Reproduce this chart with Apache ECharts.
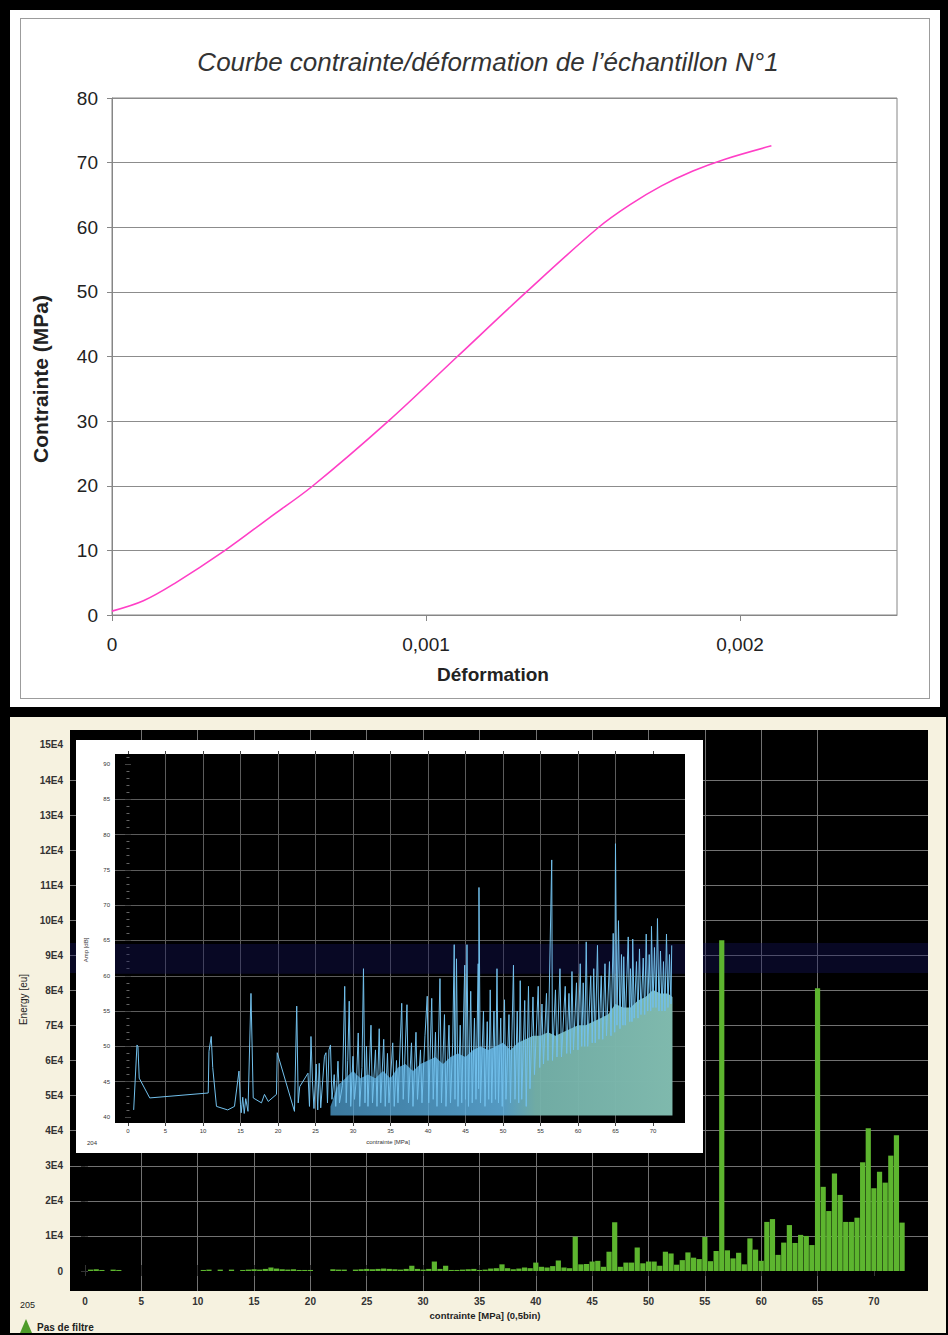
<!DOCTYPE html>
<html lang="fr">
<head>
<meta charset="utf-8">
<title>Courbe contrainte/déformation de l’échantillon N°1</title>
<script src="https://cdn.jsdelivr.net/npm/echarts@6/dist/echarts.min.js"></script>
<style>
html,body{margin:0;padding:0;width:948px;height:1335px;background:#000;overflow:hidden;position:relative;}
.abs{position:absolute;}
</style>
</head>
<body>
<div class="abs" style="left:10px;top:10px;width:930px;height:697px;background:#fff;"></div>
<div class="abs" style="left:20px;top:18px;width:908px;height:679px;border:1px solid #9c9c9c;"></div>
<div class="abs" style="left:10px;top:717px;width:936px;height:616px;background:#f6f2e0;"></div>
<div id="c1" class="abs" style="left:0;top:0;width:948px;height:712px;"></div>
<div id="c2" class="abs" style="left:0;top:712px;width:948px;height:623px;"></div>
<div id="c3" class="abs" style="left:76px;top:740px;width:627px;height:413px;background:#fff;"></div>
<script>
// ---------- Top chart: stress / strain curve ----------
const titleText = 'Courbe contrainte/déformation de l’échantillon N°1';
const strain = [0, 0.0001, 0.0002, 0.00036, 0.0005, 0.00064, 0.00088, 0.0011, 0.00132, 0.00155, 0.00165, 0.00175, 0.00185, 0.00195, 0.0021];
const stress = [0.6, 2.2, 4.9, 10, 15, 20, 30, 40, 50, 60, 63.5, 66.4, 68.7, 70.5, 72.6];
const strainTicks = [0, 0.001, 0.002];

// ---------- Bottom chart: energy histogram (0.5 MPa bins) ----------
const energyBins = [0.5,1,1.5,2.5,3,10.5,11,12,13,14,14.5,15,15.5,16,16.5,17,17.5,18,18.5,19,19.5,20,22,22.5,23,24,24.5,25,25.5,26,26.5,27,27.5,
  28,28.5,29,29.5,30,30.5,31,31.5,32,32.5,33,33.5,34,34.5,35,35.5,36,36.5,37,37.5,38,38.5,39,39.5,40,40.5,41,41.5,42,42.5,43,43.5,44,44.5,45,45.5,46,46.5,47,47.5,48,48.5,49,49.5,50,50.5,
  51,51.5,52,52.5,53,53.5,54,54.5,55,55.5,56,56.5,57,57.5,58,58.5,59,59.5,60,60.5,61,61.5,62,62.5,63,63.5,64,64.5,65,65.5,66,66.5,67,67.5,68,68.5,69,69.5,70,70.5,71,71.5,72,72.5];
const energyValues = [400,500,300,400,300,300,400,400,400,300,400,500,400,600,1000,700,500,400,500,300,300,300,500,400,400,400,500,600,500,600,700,600,500,
  400,600,1500,600,400,600,2700,600,1500,300,300,400,500,600,300,400,700,800,1900,800,500,700,1000,800,2400,1200,1000,1400,3000,1000,800,9800,1900,2000,2700,2900,1200,5500,13900,1200,2400,2400,6700,2200,2700,2700,
  1500,5500,5000,1800,3100,5300,3800,3400,9700,2800,5700,94300,5900,3600,5200,1900,9300,6100,2900,14000,14800,4600,8100,13100,8000,10300,10000,7400,80600,24000,17100,27800,21700,14000,14000,15200,31000,40700,23600,28300,25200,32900,38700,13800];
const stressTickValues = [0,5,10,15,20,25,30,35,40,45,50,55,60,65,70];
const energyTicks = [0,10000,20000,30000,40000,50000,60000,70000,80000,90000,100000,110000,120000,130000,140000,150000];

// ---------- Inset: amplitude of hits vs stress ----------
const ampTicks = [40,45,50,55,60,65,70,75,80,85,90];
const hitPoints = [
  [0.76,41.0],[1.2,50.2],[1.33,50.0],[1.5,45.5],[2.9,42.7],[10.7,43.4],[10.8,49.3],[11.1,51.4],[11.3,47.0],[11.8,41.5],
  [13.3,41.0],[14.2,41.5],[14.8,46.5],[15.0,41.8],[15.1,40.6],[15.3,42.8],[15.5,40.5],[15.7,42.6],[16.0,40.8],[16.4,57.5],
  [16.7,42.7],[17.8,42.0],[18.2,43.2],[18.7,42.2],[19.8,43.2],[19.9,49.1],[22.2,40.8],[22.5,55.7],[22.7,42.0],[22.9,44.3],
  [24.0,46.2],[24.2,41.5],[24.4,51.4],[24.6,45.0],[24.8,41.2],[25.1,47.5],[25.3,41.0],[25.5,47.6],[25.7,41.3],[26.2,48.6],
  [26.4,49.1],[26.6,42.0],[26.8,49.5],[27.0,50.2],[27.2,42.5],[27.5,46.0],[27.7,41.5],[28.0,47.9],[28.2,42.0],[28.6,44.5],
  [28.9,58.5],[29.1,42.0],[29.3,48.0],[29.5,56.4],[29.7,41.5],[30.0,48.6],[30.2,42.5],[30.5,46.0],[30.7,51.9],[30.9,41.5],
  [31.2,47.0],[31.4,61.0],[31.6,42.0],[31.8,50.0],[32.0,41.5],[32.4,53.0],[32.6,42.0],[33.0,49.5],[33.2,41.5],[33.5,52.5],
  [33.7,42.0],[34.1,51.0],[34.3,41.5],[34.6,49.0],[34.8,42.0],[35.3,50.5],[35.5,41.5],[35.8,48.0],[36.0,42.0],[36.5,56.1],
  [36.7,42.5],[37.2,55.9],[37.4,42.0],[37.8,50.5],[38.0,41.5],[38.4,52.0],[38.6,42.5],[39.0,49.5],[39.2,42.0],[39.6,51.5],
  [39.9,57.1],[40.1,42.0],[40.5,56.8],[40.7,42.5],[41.0,52.0],[41.2,41.5],[41.6,59.6],[41.8,42.0],[42.2,54.5],[42.4,41.5],
  [42.8,53.0],[43.0,42.0],[43.3,50.5],[43.5,64.4],[43.6,42.5],[43.8,62.4],[44.0,41.5],[44.3,53.0],[44.5,42.0],[44.9,61.5],
  [45.0,42.5],[45.2,64.4],[45.4,41.5],[45.7,57.8],[45.9,42.0],[46.2,54.0],[46.4,42.5],[46.7,61.7],[46.75,44.0],[46.8,72.5],
  [47.0,42.0],[47.4,55.0],[47.6,41.5],[47.9,53.5],[48.1,42.5],[48.3,58.0],[48.5,42.0],[48.8,55.0],[49.0,42.5],[49.2,61.0],
  [49.4,42.0],[49.7,54.0],[49.9,41.5],[50.2,56.6],[50.4,42.5],[50.8,54.5],[51.0,42.0],[51.4,61.5],[51.6,42.5],[51.9,55.0],
  [52.1,42.0],[52.3,59.3],[52.5,42.5],[52.9,56.5],[53.1,41.5],[53.4,58.5],[53.6,44.0],[54.0,57.0],[54.2,46.0],[54.7,58.5],
  [54.9,47.0],[55.2,56.0],[55.4,47.5],[55.8,57.5],[56.0,48.0],[56.5,76.4],[56.6,48.0],[57.0,58.0],[57.2,48.5],[57.6,61.0],
  [57.8,48.5],[58.3,58.5],[58.5,49.0],[58.8,57.5],[59.0,49.0],[59.2,60.6],[59.4,49.5],[59.8,59.0],[60.0,49.5],[60.3,61.7],
  [60.5,50.0],[60.7,59.0],[60.9,50.0],[61.1,64.8],[61.3,50.0],[61.7,60.0],[61.9,50.5],[62.1,61.0],[62.3,50.5],[62.6,64.3],
  [62.8,51.0],[63.1,60.0],[63.3,51.0],[63.6,61.7],[63.8,51.5],[64.2,62.0],[64.4,51.5],[64.7,66.0],[64.9,52.0],[65.0,78.7],
  [65.2,53.0],[65.4,67.8],[65.6,52.5],[65.8,63.0],[66.0,53.0],[66.1,62.7],[66.3,53.0],[66.7,65.5],[66.9,53.5],[67.0,61.0],
  [67.2,53.5],[67.3,65.2],[67.5,54.0],[67.8,62.0],[68.0,54.0],[68.2,63.8],[68.4,54.5],[68.7,62.5],[68.9,54.5],[69.1,65.9],
  [69.3,55.0],[69.5,63.0],[69.7,55.0],[69.8,67.0],[70.0,55.5],[70.2,64.0],[70.4,55.5],[70.6,68.1],[70.8,55.0],[71.0,63.5],
  [71.2,55.0],[71.4,62.0],[71.6,55.0],[71.8,65.9],[72.0,55.5],[72.2,63.0],[72.4,56.0],[72.5,64.3]
];
const bodyStress = [27,27.5,28,28.5,29,29.5,30,31,32,33,34,35,36,37,38,39,40,41,42,43,44,45,46,47,48,49,50,51,52,53,54,55,56,57,58,59,60,61,62,63,64,65,66,67,68,69,70,71,72,72.6];
const bodyAmp = [41.5,43,44.5,45,45.5,46,46.5,45.5,46,45.5,46.5,45.5,47,47.5,46.5,47.5,48,48.5,47.5,48.5,49,48.5,49.5,50,49.5,50,50.5,49.5,50.5,51,51.5,51.5,52,51.5,52,52.5,53,53,53.5,54,54.5,56,55.5,55.5,56.5,57,58,57.5,57.5,57];

const FONT = '"Liberation Sans", Arial, Helvetica, sans-serif';
const NARROW = '"Liberation Sans Narrow", "Liberation Sans", Arial, sans-serif';

// ===== chart 1 =====
const c1 = echarts.init(document.getElementById('c1'), null, {renderer: 'svg'});
c1.setOption({
  animation: false,
  textStyle: {fontFamily: FONT},
  graphic: [{
    type: 'text', x: 488, y: 62,
    style: {text: titleText, fill: '#333', fontSize: 26, fontStyle: 'italic', fontFamily: FONT, align: 'center', verticalAlign: 'middle'}
  }],
  grid: {left: 112, right: 51, top: 98, bottom: 97, show: true, borderColor: '#868686', borderWidth: 1, outerBoundsMode: 'none'},
  xAxis: {
    type: 'value', min: 0, max: 0.0025,
    axisLine: {show: true, lineStyle: {color: '#868686'}},
    axisTick: {show: true, customValues: strainTicks, length: 6, lineStyle: {color: '#868686'}},
    axisLabel: {customValues: strainTicks, formatter: v => String(v).replace('.', ','), fontSize: 19, color: '#222', margin: 20, fontFamily: FONT},
    splitLine: {show: false},
    name: 'Déformation', nameLocation: 'middle', nameGap: 50,
    nameTextStyle: {fontSize: 19, fontWeight: 'bold', color: '#222', fontFamily: FONT, padding: [0, 23, 0, 0]}
  },
  yAxis: {
    type: 'value', min: 0, max: 80, interval: 10,
    axisLine: {show: true, lineStyle: {color: '#868686'}},
    axisTick: {show: true, length: 5, lineStyle: {color: '#868686'}},
    axisLabel: {fontSize: 19, color: '#222', margin: 14, fontFamily: FONT},
    splitLine: {show: true, lineStyle: {color: '#8c8c8c', width: 1}},
    name: 'Contrainte (MPa)', nameLocation: 'middle', nameGap: 61,
    nameTextStyle: {fontSize: 21, fontWeight: 'bold', color: '#222', fontFamily: FONT, padding: [0, 45, 0, 0]}
  },
  series: [{
    type: 'line', data: strain.map((s, i) => [s, stress[i]]), smooth: 0.35, symbol: 'none',
    lineStyle: {color: '#ff3fc6', width: 1.6}
  }]
});

// ===== chart 2 =====
const c2 = echarts.init(document.getElementById('c2'), null, {renderer: 'svg'});
const xOuter = {min: -1.33, max: 74.8, splitNumber: 15};
const yOuter = {min: -5700, max: 154260, splitNumber: 16};
c2.setOption({
  animation: false,
  textStyle: {fontFamily: NARROW},
  graphic: [
    {type: 'text', x: 20, y: 593, style: {text: '205', fontSize: 9, fill: '#222', fontFamily: NARROW, verticalAlign: 'middle'}},
    {type: 'polygon', shape: {points: [[20, 621], [26, 607], [32, 621]]}, style: {fill: '#4f9c2a'}},
    {type: 'text', x: 37, y: 615, style: {text: 'Pas de filtre', fontSize: 10, fontWeight: 'bold', fill: '#222', fontFamily: NARROW, verticalAlign: 'middle'}}
  ],
  grid: {left: 70, right: 20, top: 18, bottom: 44, show: true, backgroundColor: '#000', borderWidth: 0, outerBoundsMode: 'none'},
  xAxis: [{
    type: 'value', ...xOuter,
    axisLine: {show: false},
    axisTick: {show: true, customValues: stressTickValues, length: 5, lineStyle: {color: '#333'}},
    axisLabel: {customValues: stressTickValues, fontSize: 10, fontWeight: 'bold', color: '#333', margin: 5},
    splitLine: {show: true, showMinLine: false, showMaxLine: false, lineStyle: {color: '#727272', width: 1}},
    name: 'contrainte [MPa] (0,5bin)', nameLocation: 'middle', nameGap: 17,
    nameTextStyle: {fontSize: 9.5, fontWeight: 'bold', color: '#222', padding: [0, 28, 0, 0]}
  }, {
    type: 'value', position: 'top', ...xOuter,
    axisLine: {show: false},
    axisTick: {show: true, customValues: stressTickValues, length: 6, lineStyle: {color: '#333'}},
    axisLabel: {show: false}, splitLine: {show: false}
  }],
  yAxis: [{
    type: 'value', ...yOuter,
    axisLine: {show: false},
    axisTick: {show: true, customValues: energyTicks, length: 4, lineStyle: {color: '#333'}},
    axisLabel: {customValues: energyTicks, fontSize: 10, fontWeight: 'bold', color: '#333', margin: 7,
      formatter: v => { const k = Math.round(v / 10000); if (Math.abs(v - k * 10000) > 1) return ''; return k === 0 ? '0' : k + 'E4'; }},
    splitLine: {show: true, showMinLine: false, showMaxLine: false, lineStyle: {color: '#727272', width: 1}},
    name: 'Energy [eu]', nameLocation: 'middle', nameGap: 36,
    nameTextStyle: {fontSize: 10, color: '#222', padding: [0, 0, 0, 22]}
  }, {
    type: 'value', position: 'right', ...yOuter,
    axisLine: {show: false},
    axisTick: {show: true, customValues: energyTicks, length: 3, lineStyle: {color: '#444'}},
    axisLabel: {show: false}, splitLine: {show: false}
  }],
  series: [{
    type: 'bar', xAxisIndex: 0, yAxisIndex: 0,
    data: energyBins.map((b, i) => [b, energyValues[i]]),
    barWidth: 5.2,
    itemStyle: {color: '#5db52f'},
    markArea: {silent: true, itemStyle: {color: 'rgba(22,22,95,0.38)'}, data: [[{yAxis: 85000}, {yAxis: 93500}]]}
  }]
});

// ===== chart 3 (inset) =====
const c3 = echarts.init(document.getElementById('c3'), null, {renderer: 'svg'});
const xIn = {min: -1.73, max: 74.27, splitNumber: 15};
const yIn = {min: 39.15, max: 91.4, splitNumber: 10};
c3.setOption({
  animation: false,
  textStyle: {fontFamily: NARROW},
  graphic: [{type: 'text', x: 11, y: 403, style: {text: '204', fontSize: 6, fill: '#333', fontFamily: NARROW, verticalAlign: 'middle'}}],
  grid: {left: 39, right: 18, top: 14, bottom: 30, show: true, backgroundColor: '#000', borderWidth: 0, outerBoundsMode: 'none'},
  xAxis: [{
    type: 'value', ...xIn,
    axisLine: {show: false},
    axisTick: {show: true, customValues: stressTickValues, length: 3, lineStyle: {color: '#444'}},
    axisLabel: {customValues: stressTickValues, fontSize: 6, color: '#333', margin: 5},
    splitLine: {show: true, showMinLine: false, showMaxLine: false, lineStyle: {color: '#5c5c5c', width: 1}},
    name: 'contrainte [MPa]', nameLocation: 'middle', nameGap: 16,
    nameTextStyle: {fontSize: 6, color: '#333', padding: [0, 24, 0, 0]}
  }, {
    type: 'value', position: 'top', ...xIn,
    axisLine: {show: false},
    axisTick: {show: true, customValues: stressTickValues, length: 3, lineStyle: {color: '#444'}},
    axisLabel: {show: false}, splitLine: {show: false}
  }],
  yAxis: [{
    type: 'value', ...yIn,
    axisLine: {show: false},
    axisTick: {show: true, customValues: ampTicks, length: 3, lineStyle: {color: '#444'}},
    minorTick: {show: true, splitNumber: 5, length: 1.5, lineStyle: {color: '#666'}},
    axisLabel: {customValues: ampTicks, fontSize: 6, color: '#333', margin: 5},
    splitLine: {show: true, showMinLine: false, showMaxLine: false, lineStyle: {color: '#5c5c5c', width: 1}},
    name: 'Amp [dB]', nameLocation: 'middle', nameGap: 26,
    nameTextStyle: {fontSize: 6, color: '#333', padding: [0, 23, 0, 0]}
  }, {
    type: 'value', position: 'right', ...yIn,
    axisLine: {show: false},
    axisTick: {show: true, customValues: ampTicks, length: 3, lineStyle: {color: '#444'}},
    minorTick: {show: true, splitNumber: 5, length: 1.5, lineStyle: {color: '#666'}},
    axisLabel: {show: false}, splitLine: {show: false}
  }],
  series: [{
    type: 'line', xAxisIndex: 0, yAxisIndex: 0,
    data: bodyStress.map((s, i) => [s, bodyAmp[i]]),
    symbol: 'none', lineStyle: {width: 0},
    areaStyle: {origin: 40.2, opacity: 1, color: {type: 'linear', x: 0, y: 0, x2: 1, y2: 0, colorStops: [
      {offset: 0, color: 'rgba(85,172,225,0.7)'}, {offset: 0.5, color: 'rgba(98,180,228,0.85)'},
      {offset: 0.6, color: 'rgba(118,180,172,0.95)'}, {offset: 1, color: '#7fb9ad'}]}},
    markArea: {silent: true, itemStyle: {color: 'rgba(22,22,95,0.38)'}, data: [[{yAxis: 60.3}, {yAxis: 64.5}]]}
  }, {
    type: 'line', xAxisIndex: 0, yAxisIndex: 0,
    data: hitPoints, symbol: 'none',
    lineStyle: {color: '#72c0ec', width: 1}
  }]
});
</script>
</body>
</html>
